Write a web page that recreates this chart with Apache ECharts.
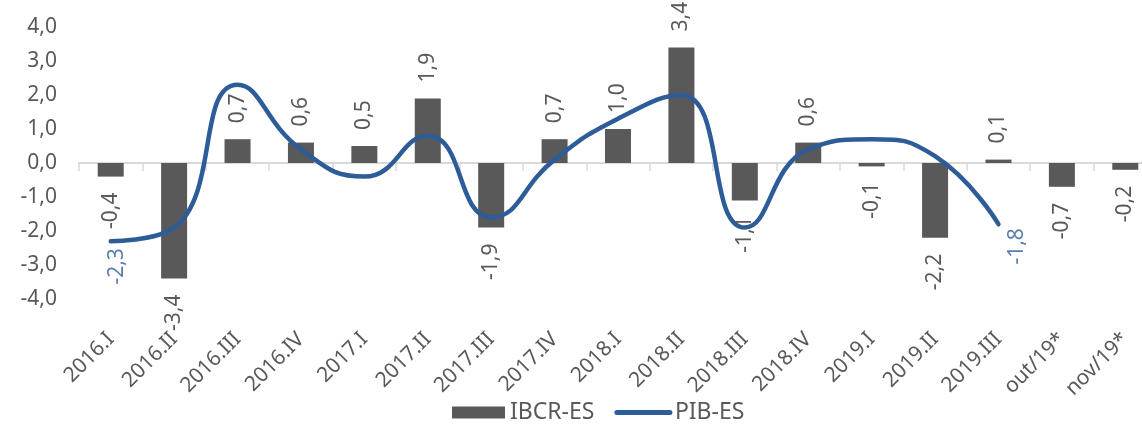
<!DOCTYPE html>
<html>
<head>
<meta charset="utf-8">
<script src="https://cdn.jsdelivr.net/npm/echarts@6/dist/echarts.min.js"></script>
<style>
html,body{margin:0;padding:0;background:#fff;}
#chart{width:1142px;height:431px;}
</style>
</head>
<body>
<div id="chart"></div>
<script>
const categories = ['2016.I','2016.II','2016.III','2016.IV','2017.I','2017.II','2017.III','2017.IV','2018.I','2018.II','2018.III','2018.IV','2019.I','2019.II','2019.III','out/19*','nov/19*'];
const ibcrES = [-0.4,-3.4,0.7,0.6,0.5,1.9,-1.9,0.7,1.0,3.4,-1.1,0.6,-0.1,-2.2,0.1,-0.7,-0.2];
const pibES = [-2.3,-1.9,2.3,0.4,-0.4,0.8,-1.6,0.1,1.3,2.0,-1.9,0.4,0.7,0.2,-1.8,null,null];
const labelledPib = [0, 14];
const yTicks = {min:-4, max:4, interval:1};

const FONT = '"Noto Sans", "Open Sans", sans-serif';
const GREY = '#595959';
const BLUE = '#2E5C99';
const fmt = v => v.toFixed(1).replace('.', ',');

const barData = ibcrES.map(v => ({
  value: v,
  label: v >= 0
    ? {position:'top', align:'left', verticalAlign:'middle', distance:16}
    : {position:'bottom', align:'right', verticalAlign:'middle', distance:16}
}));

// offsets are in the rotated text frame: [0, d] moves the label d px to the right
const pibLabelData = labelledPib.map((i, k) => ({
  value:[categories[i], pibES[i]],
  label: k === 0 ? {offset:[0, 6], distance:7} : {offset:[0, 19], distance:4}
}));

const chart = echarts.init(document.getElementById('chart'), null, {renderer:'canvas'});
chart.setOption({
  animation:false,
  backgroundColor:'#fff',
  textStyle:{fontFamily:FONT},
  grid:{left:79, right:-15, top:27, bottom:132, outerBoundsMode:'none', containLabel:false},
  legend:{
    left:452, top:401, padding:0,
    itemWidth:53, itemHeight:12, itemGap:20,
    textStyle:{color:GREY, fontSize:23, fontFamily:FONT},
    data:[
      {name:'IBCR-ES', icon:'rect'},
      {name:'PIB-ES', itemStyle:{opacity:0}, lineStyle:{width:5, color:BLUE, cap:'round'}}
    ]
  },
  xAxis:[
    {
      type:'category', data:categories, position:'bottom',
      axisLine:{show:false, onZero:false}, axisTick:{show:false},
      axisLabel:{rotate:45, margin:37, color:GREY, fontSize:21, fontFamily:FONT, interval:0},
      splitLine:{show:false}
    },
    {
      type:'category', data:categories, position:'top',
      axisLine:{show:true, onZero:true, lineStyle:{color:'#D9D9D9', width:2}},
      axisTick:{show:true, inside:true, length:8, lineStyle:{color:'#D9D9D9', width:1.5}},
      axisLabel:{show:false}, splitLine:{show:false}
    }
  ],
  yAxis:{
    type:'value', min:yTicks.min, max:yTicks.max, interval:yTicks.interval,
    axisLine:{show:false}, axisTick:{show:false}, splitLine:{show:false},
    axisLabel:{formatter:fmt, color:GREY, fontSize:21, fontFamily:FONT, margin:22}
  },
  series:[
    {
      name:'IBCR-ES', type:'bar', xAxisIndex:0, data:barData, barWidth:26,
      itemStyle:{color:'#595959'},
      label:{show:true, rotate:90, formatter:p => fmt(p.value), color:GREY, fontSize:21, fontFamily:FONT}
    },
    {
      name:'PIB-ES', type:'line', xAxisIndex:0, data:pibES, smooth:0.5,
      showSymbol:false, symbol:'none', connectNulls:false,
      lineStyle:{color:BLUE, width:4.5, cap:'round'},
      itemStyle:{color:BLUE},
      z:3
    },
    {
      name:'PIB-ES labels', type:'scatter', xAxisIndex:0, data:pibLabelData,
      symbolSize:0, silent:true, z:4,
      label:{show:true, position:'bottom', rotate:90, align:'right', verticalAlign:'middle',
        formatter:p => fmt(p.value[1]), color:BLUE, fontSize:21, fontFamily:FONT}
    }
  ]
});
</script>
</body>
</html>
